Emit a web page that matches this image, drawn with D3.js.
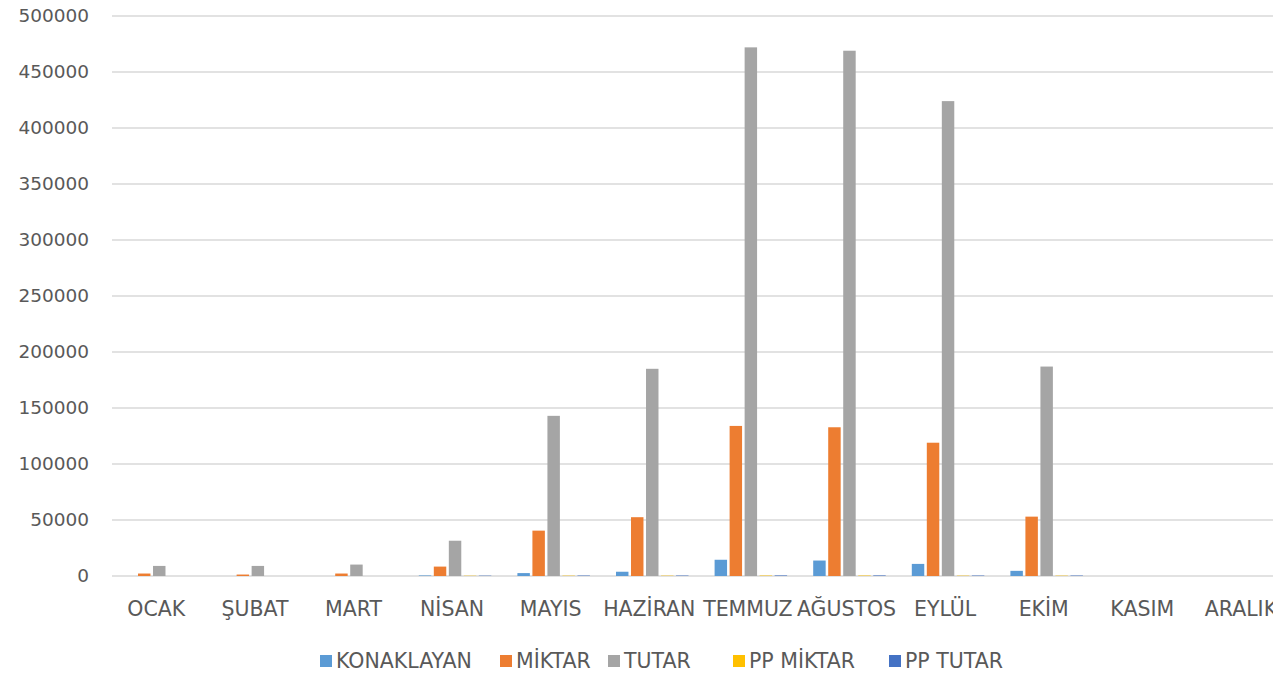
<!DOCTYPE html>
<html>
<head>
<meta charset="utf-8">
<script src="https://cdnjs.cloudflare.com/ajax/libs/d3/7.8.5/d3.min.js"></script>
<style>
  body { margin: 0; background: white; }
  text { font-family: "DejaVu Sans", sans-serif; fill: #595959; }
</style>
</head>
<body>
<div id="container"></div>
<script>
/* CONSTANTS AND GLOBALS */
const width = 1273,
  height = 675,
  plotLeft = 110,
  step = 98.6,
  plotTop = 16,
  plotBottom = 576;

/* DATA */
const months = ["OCAK", "ŞUBAT", "MART", "NİSAN", "MAYIS", "HAZİRAN", "TEMMUZ", "AĞUSTOS", "EYLÜL", "EKİM", "KASIM", "ARALIK"];
const seriesNames = ["KONAKLAYAN", "MİKTAR", "TUTAR", "PP MİKTAR", "PP TUTAR"];
const konaklayan = [0, 0, 0, 500, 2600, 3800, 14500, 13800, 10800, 4600, 0, 0];
const miktar = [2200, 1300, 2200, 8400, 40500, 52500, 134000, 132800, 119000, 53000, 0, 0];
const tutar = [9000, 9000, 10200, 31500, 143000, 185000, 472000, 469000, 424000, 187000, 0, 0];
const ppMiktar = [0, 0, 0, 250, 300, 300, 400, 400, 300, 300, 0, 0];
const ppTutar = [0, 0, 0, 300, 400, 400, 500, 500, 400, 400, 0, 0];
const yTicks = [0, 50000, 100000, 150000, 200000, 250000, 300000, 350000, 400000, 450000, 500000];
const colors = ["#5B9BD5", "#ED7D31", "#A5A5A5", "#FFC000", "#4472C4"];

const values = [konaklayan, miktar, tutar, ppMiktar, ppTutar];
const data = months.map((m, i) => ({
  month: m,
  bars: seriesNames.map((s, j) => ({ series: s, value: values[j][i] }))
}));

const svg = d3.select("#container")
  .append("svg")
  .attr("width", width)
  .attr("height", height)

/* SCALES */
const xScale = d3.scaleBand()
  .domain(months)
  .range([plotLeft, plotLeft + step * months.length])

const x1 = d3.scaleBand()
  .domain(seriesNames)
  .range([13, 85.5])
  .paddingInner(0.17)

const yScale = d3.scaleLinear()
  .domain([0, 500000])
  .range([plotBottom, plotTop])

const colorScale = d3.scaleOrdinal()
  .domain(seriesNames)
  .range(colors)

/* GRIDLINES + Y AXIS */
svg.append("g")
  .selectAll("line")
  .data(yTicks)
  .join("line")
  .attr("x1", 112)
  .attr("x2", width)
  .attr("y1", d => yScale(d))
  .attr("y2", d => yScale(d))
  .attr("stroke", "#D9D9D9")
  .attr("stroke-width", 1.3)

svg.append("g")
  .selectAll("text")
  .data(yTicks)
  .join("text")
  .attr("x", 89)
  .attr("y", d => yScale(d))
  .attr("dy", "0.35em")
  .attr("text-anchor", "end")
  .style("font-size", "18.5px")
  .text(d => d)

/* BARS */
const groups = svg.append("g")
  .selectAll("g")
  .data(data)
  .join("g")
  .attr("transform", d => `translate(${xScale(d.month)},0)`)

groups.selectAll("rect")
  .data(d => d.bars)
  .join("rect")
  .attr("x", d => x1(d.series))
  .attr("width", x1.bandwidth())
  .attr("y", d => yScale(d.value))
  .attr("height", d => plotBottom - yScale(d.value))
  .attr("fill", d => colorScale(d.series))

/* X AXIS LABELS */
svg.append("g")
  .selectAll("text")
  .data(months)
  .join("text")
  .attr("x", d => xScale(d) + xScale.bandwidth() / 2 - 3)
  .attr("y", 609)
  .attr("dy", "0.35em")
  .attr("text-anchor", "middle")
  .style("font-size", "20.5px")
  .text(d => d)

/* LEGEND */
const legendX = [320, 500, 608, 733, 889];
const legend = svg.append("g")
  .selectAll("g")
  .data(seriesNames)
  .join("g")
  .attr("transform", (d, i) => `translate(${legendX[i]},661)`)

legend.append("rect")
  .attr("x", 0)
  .attr("y", -6)
  .attr("width", 12)
  .attr("height", 12)
  .attr("fill", d => colorScale(d))

legend.append("text")
  .attr("x", 16)
  .attr("y", 0)
  .attr("dy", "0.35em")
  .style("font-size", "20.5px")
  .text(d => d)
</script>
</body>
</html>
